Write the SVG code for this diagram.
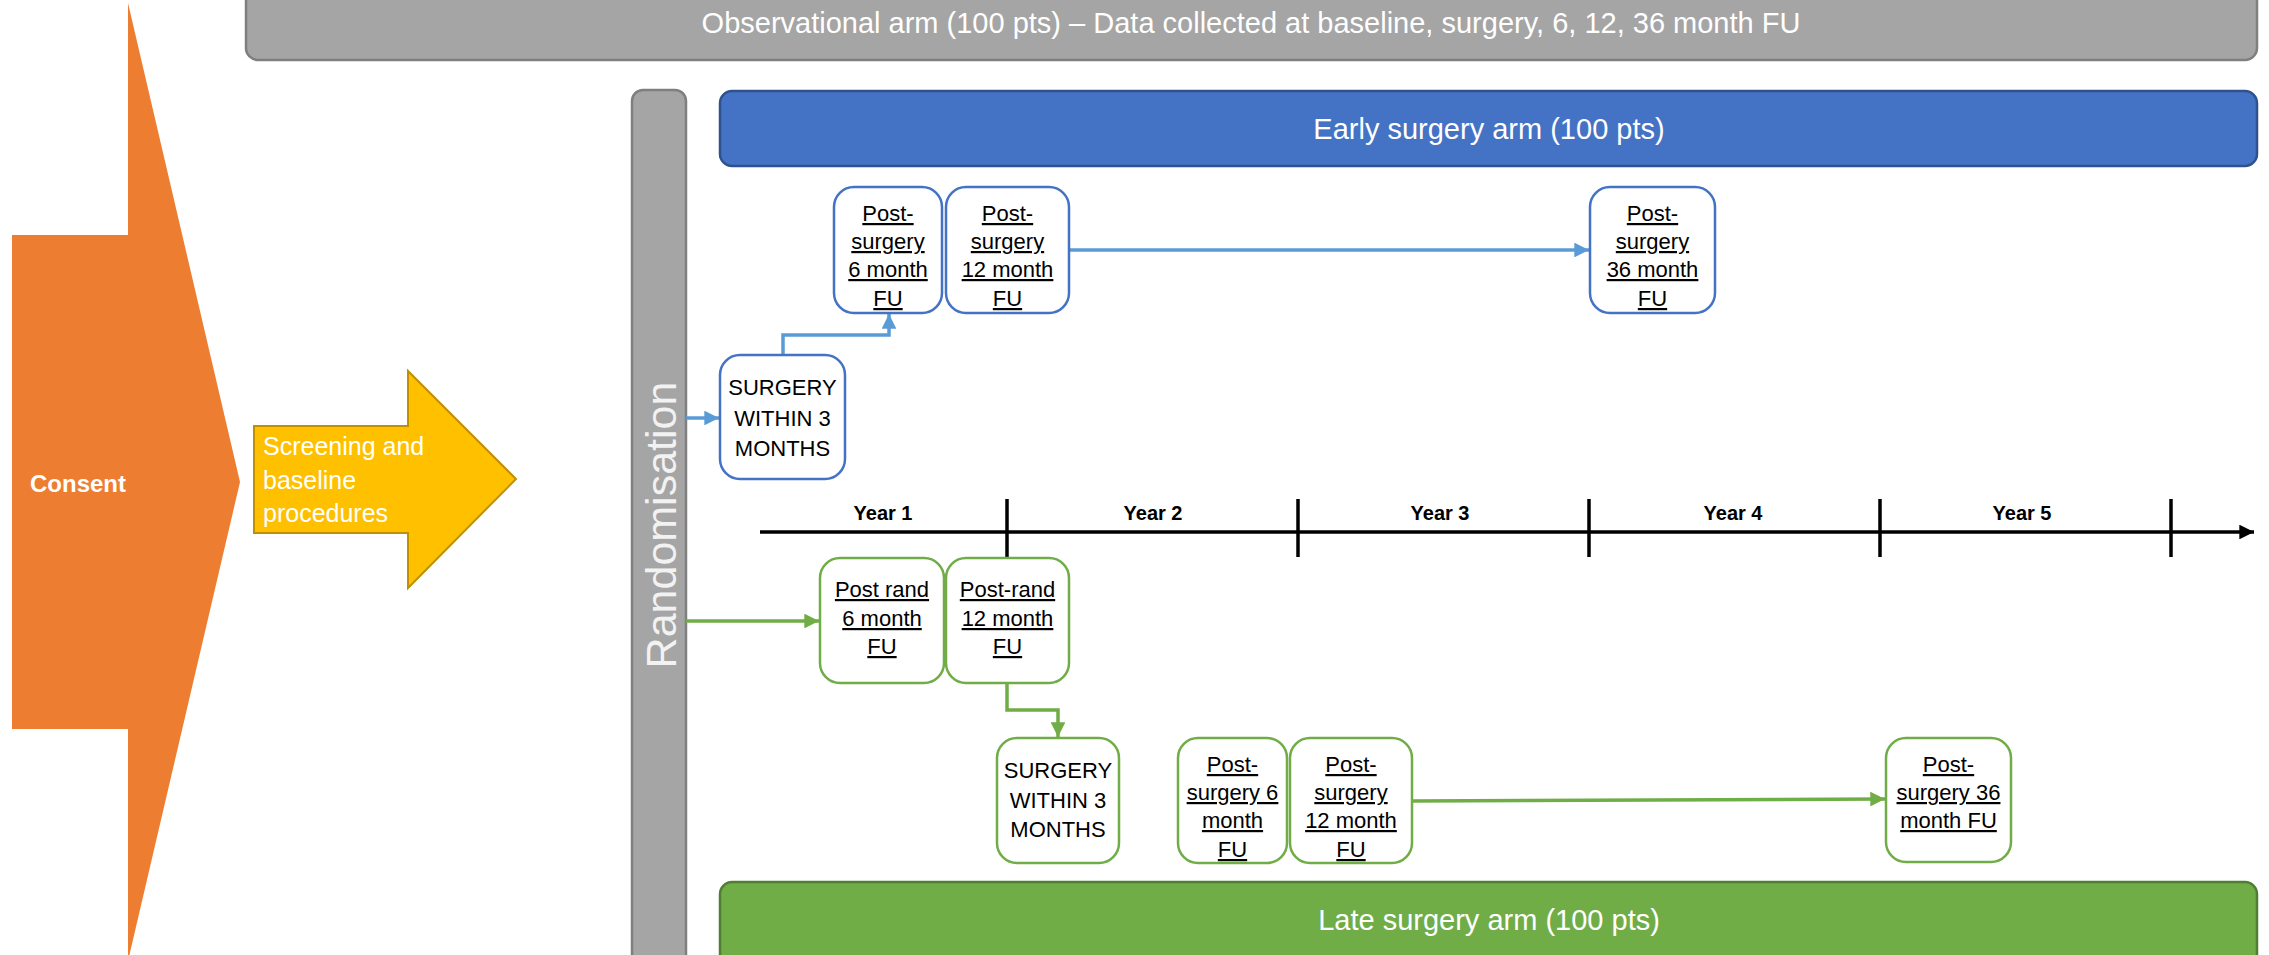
<svg xmlns="http://www.w3.org/2000/svg" width="2269" height="955" viewBox="0 0 2269 955">
<defs>
<style>
.t{font-family:"Liberation Sans",Arial,sans-serif;}
.bar{stroke-width:2.5;}
.bt{font-family:"Liberation Sans",Arial,sans-serif;font-size:29px;fill:#FFFFFF;text-anchor:middle;}
.box{fill:#FFFFFF;stroke-width:2.5;}
.bb{stroke:#4472C4;}
.gb{stroke:#70AD47;}
.nt{font-family:"Liberation Sans",Arial,sans-serif;font-size:22px;fill:#000000;text-anchor:middle;}
.u{text-decoration:underline;}
.yr{font-family:"Liberation Sans",Arial,sans-serif;font-size:20px;font-weight:bold;fill:#000000;text-anchor:middle;}
.cb{fill:none;stroke:#5B9BD5;stroke-width:3.5;}
.cg{fill:none;stroke:#70AD47;stroke-width:3.5;}
.tk{stroke:#000000;stroke-width:3.5;}
</style>
<marker id="ab" viewBox="0 0 10 10" refX="10" refY="5" markerWidth="4.2" markerHeight="4.2" orient="auto" markerUnits="strokeWidth"><path d="M0,0 L10,5 L0,10 z" fill="#5B9BD5"/></marker>
<marker id="ag" viewBox="0 0 10 10" refX="10" refY="5" markerWidth="4.2" markerHeight="4.2" orient="auto" markerUnits="strokeWidth"><path d="M0,0 L10,5 L0,10 z" fill="#70AD47"/></marker>
<marker id="ak" viewBox="0 0 10 10" refX="10" refY="5" markerWidth="4.2" markerHeight="4.2" orient="auto" markerUnits="strokeWidth"><path d="M0,0 L10,5 L0,10 z" fill="#000000"/></marker>
</defs>
<rect x="0" y="0" width="2269" height="955" fill="#FFFFFF"/>

<g id="consent">
<polygon points="12,235 128,235 128,3 240,482 128,961 128,729 12,729" fill="#ED7D31"/>
<text class="t" x="30" y="492" font-size="24" font-weight="bold" fill="#FFFFFF">Consent</text>
</g>

<g id="screening">
<polygon points="254,426 408,426 408,371 516,479 408,588 408,533 254,533" fill="#FFC000" stroke="#BF9000" stroke-width="2"/>
<text class="t" font-size="25" fill="#FFFFFF"><tspan x="263" y="455">Screening and</tspan><tspan x="263" y="489">baseline</tspan><tspan x="263" y="522">procedures</tspan></text>
</g>

<g id="observational">
<rect class="bar" x="246" y="-14" width="2011" height="74" rx="12" fill="#A5A5A5" stroke="#7F7F7F"/>
<text class="bt" x="1251" y="33" fill="#F2F2F2">Observational arm (100 pts) – Data collected at baseline, surgery, 6, 12, 36 month FU</text>
</g>

<g id="randomisation">
<rect class="bar" x="632" y="90" width="54" height="880" rx="11" fill="#A5A5A5" stroke="#7F7F7F"/>
<text class="t" transform="translate(676,525) rotate(-90)" font-size="43" fill="#F2F2F2" text-anchor="middle">Randomisation</text>
</g>

<g id="early-arm">
<rect class="bar" x="720" y="91" width="1537" height="75" rx="12" fill="#4472C4" stroke="#2F528F"/>
<text class="bt" x="1489" y="139">Early surgery arm (100 pts)</text>
</g>

<g id="late-arm">
<rect class="bar" x="720" y="882" width="1537" height="90" rx="12" fill="#70AD47" stroke="#507E32"/>
<text class="bt" x="1489" y="930">Late surgery arm (100 pts)</text>
</g>

<g id="timeline">
<line class="tk" x1="760" y1="532" x2="2254" y2="532" marker-end="url(#ak)"/>
<line class="tk" x1="1007" y1="499" x2="1007" y2="557"/>
<line class="tk" x1="1298" y1="499" x2="1298" y2="557"/>
<line class="tk" x1="1589" y1="499" x2="1589" y2="557"/>
<line class="tk" x1="1880" y1="499" x2="1880" y2="557"/>
<line class="tk" x1="2171" y1="499" x2="2171" y2="557"/>
<text class="yr" x="883" y="520">Year 1</text>
<text class="yr" x="1153" y="520">Year 2</text>
<text class="yr" x="1440" y="520">Year 3</text>
<text class="yr" x="1733" y="520">Year 4</text>
<text class="yr" x="2022" y="520">Year 5</text>
</g>

<g id="connectors">
<line class="cb" x1="686" y1="418" x2="719" y2="418" marker-end="url(#ab)"/>
<polyline class="cb" points="783,355 783,335 889,335 889,314" marker-end="url(#ab)"/>
<line class="cb" x1="1069" y1="250" x2="1589" y2="250" marker-end="url(#ab)"/>
<line class="cg" x1="686" y1="621" x2="819" y2="621" marker-end="url(#ag)"/>
<polyline class="cg" points="1007,683 1007,710 1058,710 1058,737" marker-end="url(#ag)"/>
<line class="cg" x1="1412" y1="801" x2="1885" y2="799" marker-end="url(#ag)"/>
</g>

<g id="early-surgery">
<rect class="box bb" x="720" y="355" width="125" height="124" rx="20"/>
<text class="nt"><tspan x="782.5" y="395">SURGERY</tspan><tspan x="782.5" y="426">WITHIN 3</tspan><tspan x="782.5" y="456">MONTHS</tspan></text>
</g>

<g id="early-6m">
<rect class="box bb" x="834" y="187" width="108" height="126" rx="20"/>
<text class="nt u"><tspan x="888" y="221">Post-</tspan><tspan x="888" y="249">surgery</tspan><tspan x="888" y="277">6 month</tspan><tspan x="888" y="306">FU</tspan></text>
</g>

<g id="early-12m">
<rect class="box bb" x="946" y="187" width="123" height="126" rx="20"/>
<text class="nt u"><tspan x="1007.5" y="221">Post-</tspan><tspan x="1007.5" y="249">surgery</tspan><tspan x="1007.5" y="277">12 month</tspan><tspan x="1007.5" y="306">FU</tspan></text>
</g>

<g id="early-36m">
<rect class="box bb" x="1590" y="187" width="125" height="126" rx="20"/>
<text class="nt u"><tspan x="1652.5" y="221">Post-</tspan><tspan x="1652.5" y="249">surgery</tspan><tspan x="1652.5" y="277">36 month</tspan><tspan x="1652.5" y="306">FU</tspan></text>
</g>

<g id="late-rand-6m">
<rect class="box gb" x="820" y="558" width="124" height="125" rx="20"/>
<text class="nt u"><tspan x="882" y="597">Post rand</tspan><tspan x="882" y="626">6 month</tspan><tspan x="882" y="654">FU</tspan></text>
</g>

<g id="late-rand-12m">
<rect class="box gb" x="946" y="558" width="123" height="125" rx="20"/>
<text class="nt u"><tspan x="1007.5" y="597">Post-rand</tspan><tspan x="1007.5" y="626">12 month</tspan><tspan x="1007.5" y="654">FU</tspan></text>
</g>

<g id="late-surgery">
<rect class="box gb" x="997" y="738" width="122" height="125" rx="20"/>
<text class="nt"><tspan x="1058" y="778">SURGERY</tspan><tspan x="1058" y="808">WITHIN 3</tspan><tspan x="1058" y="837">MONTHS</tspan></text>
</g>

<g id="late-6m">
<rect class="box gb" x="1178" y="738" width="109" height="125" rx="20"/>
<text class="nt u"><tspan x="1232.5" y="772">Post-</tspan><tspan x="1232.5" y="800">surgery 6</tspan><tspan x="1232.5" y="828">month</tspan><tspan x="1232.5" y="857">FU</tspan></text>
</g>

<g id="late-12m">
<rect class="box gb" x="1290" y="738" width="122" height="125" rx="20"/>
<text class="nt u"><tspan x="1351" y="772">Post-</tspan><tspan x="1351" y="800">surgery</tspan><tspan x="1351" y="828">12 month</tspan><tspan x="1351" y="857">FU</tspan></text>
</g>

<g id="late-36m">
<rect class="box gb" x="1886" y="738" width="125" height="124" rx="20"/>
<text class="nt u"><tspan x="1948.5" y="772">Post-</tspan><tspan x="1948.5" y="800">surgery 36</tspan><tspan x="1948.5" y="828">month FU</tspan></text>
</g>
</svg>
